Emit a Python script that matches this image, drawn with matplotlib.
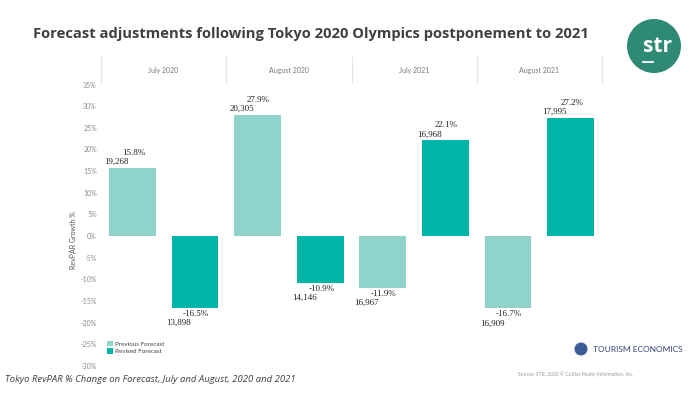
import numpy as np
import matplotlib
matplotlib.use('Agg')
from matplotlib import pyplot as plt
import matplotlib.transforms as mtrans
from matplotlib.patches import Circle

months = ['July 2020', 'August 2020', 'July 2021', 'August 2021']
previous = [15.8, 27.9, -11.9, -16.7]
revised = [-16.5, -10.9, 22.1, 27.2]
previous_revpar = ['19,268', '20,305', '16,967', '16,909']
revised_revpar = ['13,898', '14,146', '16,968', '17,995']
yticks = np.arange(-30, 36, 5)

colors = {'Previous Forecast': '#8FD3CB', 'Revised Forecast': '#00B4A8'}
W, H = 700, 394


def fx(px):
    return px / W


def fy(py):
    return 1 - py / H


fig = plt.figure(figsize=(7, 3.94), dpi=100, facecolor='w')
ax = fig.add_axes([fx(101), fy(366), fx(602) - fx(101), fy(84.5) - fy(366)])
ax.set_xlim(-0.5, 7.5)
ax.set_ylim(-30, 35)
for s in ax.spines.values():
    s.set_visible(False)
ax.set_xticks([])
ax.set_yticks(yticks)
ax.set_yticklabels(['%d%%' % t for t in yticks], fontsize=5, color='#8a8a8a',
                   family='Lato')
ax.tick_params(axis='y', length=0, pad=3)

width = 0.745
series = [('Previous Forecast', previous, previous_revpar),
          ('Revised Forecast', revised, revised_revpar)]
for i, m in enumerate(months):
    for j, (name, vals, revpar) in enumerate(series):
        x = 2 * i + j
        v = vals[i]
        ax.bar(x, v, width=width, color=colors[name], label=name, zorder=3)
        if v >= 0:
            dp, dn = 15, 6
        else:
            dp, dn = -6, -15
        ax.annotate('%.1f%%' % v, (x, v), xytext=(1, dp), textcoords='offset pixels',
                    ha='center', va='center', fontsize=6.5, color='#222222',
                    family='Liberation Serif')
        ax.annotate(revpar[i], (x - width / 2, v), xytext=(-5, dn),
                    textcoords='offset pixels', ha='left', va='center', fontsize=6.5,
                    color='#222222', family='Liberation Serif')

# header band with month labels
tr = mtrans.blended_transform_factory(ax.transData, fig.transFigure)
for k in range(len(months) + 1):
    xs = 2 * k - 0.5
    ax.plot([xs, xs], [fy(57), fy(83)], transform=tr, color='#e4e4e4', lw=0.8,
            clip_on=False)
for i, m in enumerate(months):
    ax.text(2 * i + 0.5, fy(70), m, transform=tr, ha='center', va='center',
            fontsize=5, color='#7a7a7a', family='Lato')

fig.text(fx(73), fy(240), 'RevPAR Growth %', rotation=90, ha='center', va='center',
         fontsize=5, color='#555555', family='Lato')

h, l = ax.get_legend_handles_labels()
by_label = dict(zip(l, h))
leg = ax.legend(by_label.values(), by_label.keys(), loc='upper left',
                bbox_to_anchor=(fx(107), fy(341)), bbox_transform=fig.transFigure,
                frameon=False, prop={'family': 'Lato', 'size': 4.5},
                handlelength=0.9, handleheight=0.9, handletextpad=0.4,
                labelspacing=0.25, borderpad=0, borderaxespad=0)
for t in leg.get_texts():
    t.set_color('#444444')

# title and captions
fig.text(fx(33), fy(34), 'Forecast adjustments following Tokyo 2020 Olympics postponement to 2021',
         ha='left', va='center', fontsize=10.6, fontweight='bold', color='#404040',
         family='Open Sans')
fig.text(fx(5), fy(380), 'Tokyo RevPAR % Change on Forecast, July and August, 2020 and 2021',
         ha='left', va='center', fontsize=6.8, style='italic', color='#404040',
         family='Open Sans')
fig.text(fx(518), fy(374), 'Source: STR, 2020 \u00a9 CoStar Realty Information, Inc.',
         ha='left', va='center', fontsize=3.6, color='#9a9a9a', family='Lato')

# Tourism Economics mark
globe = Circle((0, 0), 6.5, transform=mtrans.Affine2D().translate(581, H - 349),
               facecolor='#3d5c97', edgecolor='none')
fig.patches.append(globe)
fig.text(fx(593), fy(349), 'TOURISM ECONOMICS', ha='left', va='center', fontsize=6,
         color='#34467a', family='Lato')

# STR badge
badge = Circle((0, 0), 27, transform=mtrans.Affine2D().translate(654, H - 46),
               facecolor='#2E8A75', edgecolor='none')
fig.patches.append(badge)
fig.text(fx(657), fy(47), 'str', ha='center', va='center', fontsize=15,
         fontweight='bold', color='white', family='Open Sans')
fig.add_artist(plt.Line2D([fx(643), fx(653)], [fy(62), fy(62)], color='white', lw=1.3))

fig.savefig('out.png', dpi=100)
